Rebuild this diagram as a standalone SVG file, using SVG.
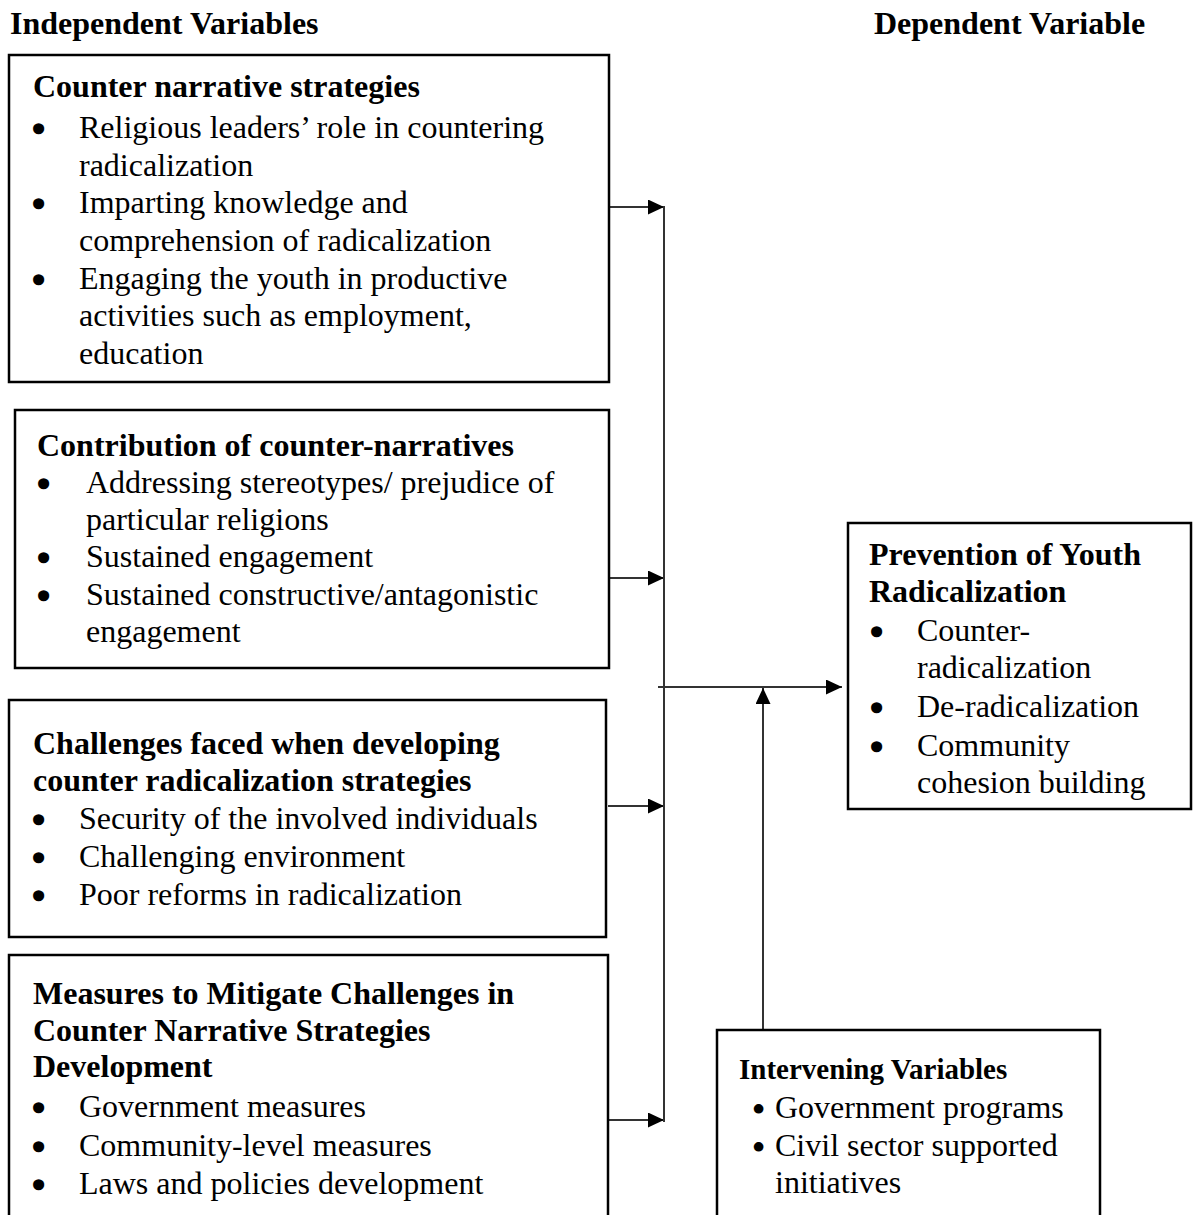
<svg xmlns="http://www.w3.org/2000/svg" width="1193" height="1215" viewBox="0 0 1193 1215">
  <style>
    text { font-family: "Liberation Serif", "Times New Roman", serif; fill: #000; font-size: 32px; }
    .h { font-weight: bold; }
    .hs { font-weight: bold; font-size: 29px; }
    .b { stroke: #000; stroke-width: 3.5; }
    .bs { stroke: #000; stroke-width: 2; }
    .box { fill: #fff; stroke: #000; stroke-width: 2.5; }
    .link { fill: none; stroke: #333; stroke-width: 2; }
  </style>
  <defs>
    <marker id="arrow" markerUnits="userSpaceOnUse" markerWidth="17" markerHeight="16" refX="16" refY="7.5" orient="auto">
      <path d="M0,0 L16,7.5 L0,15 Z" fill="#000"/>
    </marker>
  </defs>

  <rect width="1193" height="1215" fill="#fff"/>

  <!-- column titles -->
  <text class="h" x="10" y="34">Independent Variables</text>
  <text class="h" x="874" y="34">Dependent Variable</text>

  <!-- connectors -->
  <g id="connectors">
    <line class="link" x1="610" y1="207" x2="664" y2="207" marker-end="url(#arrow)"/>
    <line class="link" x1="610" y1="578" x2="664" y2="578" marker-end="url(#arrow)"/>
    <line class="link" x1="608" y1="806" x2="664" y2="806" marker-end="url(#arrow)"/>
    <line class="link" x1="609" y1="1120" x2="664" y2="1120" marker-end="url(#arrow)"/>
    <line class="link" x1="664" y1="206" x2="664" y2="1122"/>
    <line class="link" x1="658" y1="687" x2="842" y2="687" marker-end="url(#arrow)"/>
    <line class="link" x1="763" y1="1030" x2="763" y2="688" marker-end="url(#arrow)"/>
  </g>

  <!-- independent variable 1 -->
  <g id="counter-narrative-strategies">
    <rect class="box" x="9" y="55" width="600" height="327"/>
    <text class="h" x="33" y="97">Counter narrative strategies</text>
    <text><tspan class="b" x="33" y="140">•</tspan><tspan x="79" y="138">Religious leaders’ role in countering</tspan></text>
    <text x="79" y="175.5">radicalization</text>
    <text><tspan class="b" x="33" y="215">•</tspan><tspan x="79" y="213">Imparting knowledge and</tspan></text>
    <text x="79" y="250.5">comprehension of radicalization</text>
    <text><tspan class="b" x="33" y="290.5">•</tspan><tspan x="79" y="288.5">Engaging the youth in productive</tspan></text>
    <text x="79" y="326">activities such as employment,</text>
    <text x="79" y="363.5">education</text>
  </g>

  <!-- independent variable 2 -->
  <g id="contribution-of-counter-narratives">
    <rect class="box" x="15" y="410" width="594" height="258"/>
    <text class="h" x="37" y="456">Contribution of counter-narratives</text>
    <text><tspan class="b" x="38" y="495">•</tspan><tspan x="86" y="493">Addressing stereotypes/ prejudice of</tspan></text>
    <text x="86" y="530">particular religions</text>
    <text><tspan class="b" x="38" y="569">•</tspan><tspan x="86" y="567">Sustained engagement</tspan></text>
    <text><tspan class="b" x="38" y="606.5">•</tspan><tspan x="86" y="604.5">Sustained constructive/antagonistic</tspan></text>
    <text x="86" y="642">engagement</text>
  </g>

  <!-- independent variable 3 -->
  <g id="challenges">
    <rect class="box" x="9" y="700" width="597" height="237"/>
    <text class="h" x="33" y="754">Challenges faced when developing</text>
    <text class="h" x="33" y="790.5">counter radicalization strategies</text>
    <text><tspan class="b" x="33" y="831">•</tspan><tspan x="79" y="829">Security of the involved individuals</tspan></text>
    <text><tspan class="b" x="33" y="869">•</tspan><tspan x="79" y="867">Challenging environment</tspan></text>
    <text><tspan class="b" x="33" y="907">•</tspan><tspan x="79" y="905">Poor reforms in radicalization</tspan></text>
  </g>

  <!-- independent variable 4 -->
  <g id="mitigation-measures">
    <rect class="box" x="9" y="955" width="599" height="270"/>
    <text class="h" x="33" y="1003.5">Measures to Mitigate Challenges in</text>
    <text class="h" x="33" y="1040.5">Counter Narrative Strategies</text>
    <text class="h" x="33" y="1077">Development</text>
    <text><tspan class="b" x="33" y="1119">•</tspan><tspan x="79" y="1117">Government measures</tspan></text>
    <text><tspan class="b" x="33" y="1158">•</tspan><tspan x="79" y="1156">Community-level measures</tspan></text>
    <text><tspan class="b" x="33" y="1196">•</tspan><tspan x="79" y="1194">Laws and policies development</tspan></text>
  </g>

  <!-- dependent variable -->
  <g id="prevention-of-youth-radicalization">
    <rect class="box" x="848" y="523" width="343" height="286"/>
    <text class="h" x="869" y="565">Prevention of Youth</text>
    <text class="h" x="869" y="602">Radicalization</text>
    <text><tspan class="b" x="871" y="643">•</tspan><tspan x="917" y="641">Counter-</tspan></text>
    <text x="917" y="678">radicalization</text>
    <text><tspan class="b" x="871" y="719">•</tspan><tspan x="917" y="717">De-radicalization</tspan></text>
    <text><tspan class="b" x="871" y="758">•</tspan><tspan x="917" y="756">Community</tspan></text>
    <text x="917" y="793">cohesion building</text>
  </g>

  <!-- intervening variables -->
  <g id="intervening-variables">
    <rect class="box" x="717" y="1030" width="383" height="195"/>
    <text class="hs" x="739" y="1079">Intervening Variables</text>
    <text><tspan class="bs" x="753" y="1120">•</tspan><tspan x="775" y="1118">Government programs</tspan></text>
    <text><tspan class="bs" x="753" y="1158">•</tspan><tspan x="775" y="1156">Civil sector supported</tspan></text>
    <text x="775" y="1193">initiatives</text>
  </g>
</svg>
